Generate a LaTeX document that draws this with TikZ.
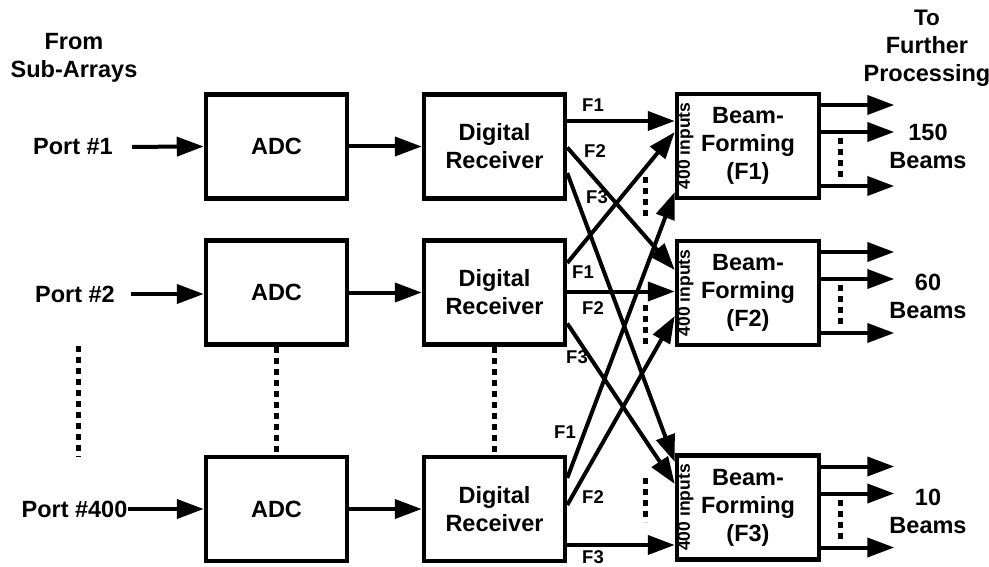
\documentclass[tikz,border=0pt]{standalone}
\usepackage{fontspec}
\setmainfont{Liberation Sans}
\usetikzlibrary{arrows.meta,calc}
\newcommand\bigtxt{\fontsize{23.5}{28}\selectfont\bfseries}
\newcommand\midtxt{\fontsize{18.5}{21}\selectfont\bfseries}
\newcommand\inptxt{\fontsize{17.5}{20}\selectfont\bfseries}
\begin{document}
\begin{tikzpicture}[x=1pt,y=-1pt,
  box/.style={draw,line width=4.5pt,minimum width=141pt,minimum height=104pt,inner sep=0pt,align=center,font=\bigtxt},
  bfbox/.style={box,minimum width=142pt},
  arr/.style={line width=4pt,-{Triangle[length=27pt,width=19pt]}},
  dotline/.style={line width=5pt,dash pattern=on 6pt off 5pt},
  lbl/.style={font=\bigtxt,align=center,inner sep=0pt},
  flbl/.style={font=\midtxt,inner sep=0pt}]
\useasboundingbox (0,0) rectangle (989,567);

% headings
\node[lbl] (from) at (74,58) {From\\Sub-Arrays};
\node[lbl] (tofp) at (927,48) {\fontsize{22.5}{30}\selectfont To\\Further\\Processing};

% ports
\node[lbl] (p1) at (73,147) {Port \#1};
\node[lbl] (p2) at (75,294) {Port \#2};
\node[lbl] (p3) at (74.5,509) {Port \#400};

% boxes
\node[box] (adc1) at (276.5,146.5) {ADC};
\node[box] (adc2) at (276.5,292.5) {ADC};
\node[box] (adc3) at (276.5,509) {ADC};
\node[box] (dr1) at (494.5,146.5) {Digital\\Receiver};
\node[box] (dr2) at (494.5,292.5) {Digital\\Receiver};
\node[box] (dr3) at (494.5,509) {Digital\\Receiver};
\node[bfbox] (bf1) at (748,146) {Beam-\\Forming\\(F1)};
\node[bfbox] (bf2) at (748,293) {Beam-\\Forming\\(F2)};
\node[bfbox] (bf3) at (748,507.5) {Beam-\\Forming\\(F3)};
\foreach \b in {1,2,3}{
  \node[font=\inptxt,inner sep=0pt,rotate=90] (in\b) at ([xshift=10.5pt]bf\b.west) {400 inputs};
}

% port arrows
\draw[arr,shorten <=19pt] (p1.east) -- (adc1.west);
\draw[arr,shorten <=16pt] (p2.east) -- (p2.east -| adc2.west);
\draw[arr] (p3.east) -- (adc3.west);
\foreach \r in {1,2,3}{
  \draw[arr] (adc\r.east) -- (dr\r.east -| dr\r.west);
}

% vertical dots
\coordinate (ld1) at (78,346);
\coordinate (ld2) at (78,457);
\draw[dotline] (ld1) -- (ld2);
\draw[dotline] (adc2.south) -- (adc3.north);
\draw[dotline] (dr2.south) -- (dr3.north);

% receiver outputs (start points)
\coordinate (s11) at ([yshift=25.5pt]dr1.east);
\coordinate (s12) at ([yshift=-1pt]dr1.east);
\coordinate (s13) at ([yshift=-26.5pt]dr1.east);
\coordinate (s21) at ([yshift=29.5pt]dr2.east);
\coordinate (s22) at ([yshift=1pt]dr2.east);
\coordinate (s23) at ([yshift=-31pt]dr2.east);
\coordinate (s31) at ([yshift=31pt]dr3.east);
\coordinate (s32) at ([yshift=4pt]dr3.east);
\coordinate (s33) at ([yshift=-36pt]dr3.east);
% beamformer inputs (tips)
\coordinate (t11) at (s11 -| bf1.west);
\coordinate (t21) at ([yshift=14pt]bf1.west);
\coordinate (t31) at ([yshift=-46pt]bf1.west);
\coordinate (t12) at ([yshift=23pt]bf2.west);
\coordinate (t22) at (s22 -| bf2.west);
\coordinate (t32) at ([yshift=-23pt]bf2.west);
\coordinate (t13) at ([yshift=45.5pt]bf3.west);
\coordinate (t23) at ([yshift=23.5pt]bf3.west);
\coordinate (t33) at (s33 -| bf3.west);
\foreach \d in {1,2,3}{\foreach \f in {1,2,3}{
  \draw[arr] (s\d\f) -- (t\d\f);
}}

% F labels
\node[flbl] (l11) at (593,105) {F1};
\node[flbl] (l12) at (595,151) {F2};
\node[flbl] (l13) at (597,197) {F3};
\node[flbl] (l21) at (583,272) {F1};
\node[flbl] (l22) at (593,308) {F2};
\node[flbl] (l23) at (577,357) {F3};
\node[flbl] (l31) at (565,432) {F1};
\node[flbl] (l32) at (593,497) {F2};
\node[flbl] (l33) at (593,557) {F3};

% input dots
\coordinate (id1a) at ([xshift=-29pt,yshift=-31pt]bf1.west);
\coordinate (id1b) at ([xshift=-29pt,yshift=-72pt]bf1.west);
\coordinate (id2a) at ([xshift=-29pt,yshift=-12pt]bf2.west);
\coordinate (id2b) at ([xshift=-29pt,yshift=-55pt]bf2.west);
\coordinate (id3a) at ([xshift=-29pt,yshift=29.5pt]bf3.west);
\coordinate (id3b) at ([xshift=-29pt,yshift=-14.5pt]bf3.west);
\foreach \b in {1,2,3}{\draw[dotline] (id\b a) -- (id\b b);}

% outputs
\foreach \b in {1,2,3}{
  \foreach \s [count=\k] in {41,14,-40}{
    \coordinate (o\b\k s) at ([yshift=\s pt]bf\b.east);
    \coordinate (o\b\k e) at ([xshift=73pt,yshift=\s pt]bf\b.east);
    \draw[arr] (o\b\k s) -- (o\b\k e);
  }
  \coordinate (od\b a) at ([xshift=19pt,yshift=8pt]bf\b.east);
  \coordinate (od\b b) at ([xshift=19pt,yshift=-35pt]bf\b.east);
  \draw[dotline] (od\b a) -- (od\b b);
}
\node[lbl] (bm1) at (928,146) {150\\Beams};
\node[lbl] (bm2) at (928,296) {60\\Beams};
\node[lbl] (bm3) at (928,511) {10\\Beams};
\end{tikzpicture}
\end{document}
